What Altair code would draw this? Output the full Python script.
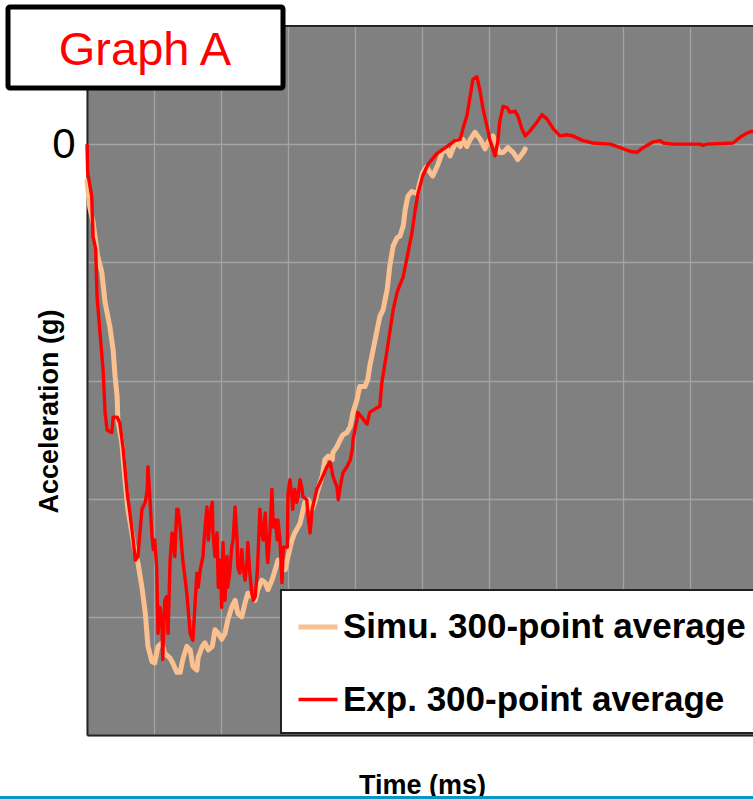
import altair as alt
import pandas as pd

# ---- data (time in ms, acceleration in g; one grid step = 10 ms / 10 g) ----
exp_t = [0, 0.1, 0.7, 0.9, 1.3, 1.5, 1.9, 2.4, 2.7, 3.0, 3.7, 3.9, 4.5, 4.9, 5.4, 6.0, 6.4, 6.9, 7.2, 7.6,
         8.2, 8.7, 9.0, 9.1, 9.4, 9.7, 9.9, 10.1, 10.4, 10.6, 10.9, 11.2, 11.3, 11.6, 11.9, 12.1, 12.4, 12.7, 13.1, 13.4,
         13.6, 13.9, 14.3, 14.9, 15.4, 15.8, 16.1, 16.4, 16.6, 16.9, 17.3, 17.6, 17.9, 18.1, 18.4, 18.7, 18.8, 19.1, 19.4, 19.6,
         19.9, 20.1, 20.3, 20.6, 20.9, 21.0, 21.3, 21.6, 21.8, 22.1, 22.4, 22.5, 22.8, 23.1, 23.3, 23.6, 23.9, 24.0, 24.3, 24.6,
         24.8, 25.1, 25.4, 25.5, 25.8, 26.1, 26.3, 26.6, 26.9, 27.0, 27.3, 27.6, 27.8, 28.1, 28.4, 28.5, 28.8, 29.1, 29.3, 29.9,
         30.0, 30.3, 30.6, 30.7, 31.0, 31.3, 31.5, 31.8, 32.1, 32.2, 32.8, 33.0, 33.3, 33.6, 34.3, 34.8, 35.2, 35.8, 36.3, 36.7,
         37.3, 37.5, 37.8, 38.2, 38.8, 39.3, 39.6, 39.7, 40.3, 40.4, 41.0, 41.8, 42.2, 43.3, 43.7, 44.0, 44.8, 45.7, 46.3, 47.2,
         47.8, 48.5, 49.0, 49.4, 50.1, 50.9, 52.2, 53.7, 54.9, 55.7, 56.1, 56.7, 57.2, 57.6, 58.2, 58.7, 59.1, 59.7, 60.1, 60.9,
         61.3, 61.6, 62.1, 62.7, 63.1, 63.9, 64.3, 64.9, 65.4, 66.1, 67.2, 67.9, 68.7, 69.6, 70.6, 71.6, 72.5, 74.0, 75.5, 78.1,
         79.6, 81.0, 82.1, 83.0, 84.5, 85.5, 86.0, 87.5, 91.5, 91.9, 92.5, 96.4, 97.5, 98.7, 99.4]
exp_g = [0, -2.4, -4.4, -7.8, -8.9, -12.9, -15.7, -19.1, -22.7, -24.2, -24.4, -23.1, -23.1, -23.6, -25.8, -29.5, -31.2, -33.5, -35.2, -34.9,
         -30.9, -30.3, -29.2, -27.3, -30.1, -33.2, -34.3, -33.5, -35.8, -41.4, -39.2, -40.8, -43.6, -38.6, -38.3, -41.4, -35.2, -32.9, -34.9, -30.9,
         -30.9, -32.4, -35.2, -38.0, -41.4, -42.0, -39.2, -36.3, -37.5, -36.0, -34.9, -32.6, -30.7, -33.5, -31.2, -30.3, -32.9, -34.9, -32.9, -37.5,
         -35.2, -39.2, -33.7, -38.6, -34.9, -37.5, -36.3, -34.1, -33.5, -30.7, -33.5, -35.8, -36.3, -34.3, -35.8, -36.9, -35.2, -33.7, -36.3, -38.0,
         -38.6, -38.3, -36.3, -35.2, -30.9, -32.9, -33.5, -31.2, -34.9, -35.4, -32.9, -29.2, -32.4, -31.8, -33.5, -31.8, -33.5, -37.1, -34.1, -34.1,
         -29.5, -28.4, -30.1, -30.9, -29.2, -30.3, -29.8, -28.4, -29.2, -29.8, -30.1, -31.5, -32.9, -30.9, -29.2, -28.6, -28.1, -27.3, -26.9, -28.1,
         -29.0, -30.1, -29.0, -27.8, -27.3, -26.7, -25.8, -25.0, -23.3, -22.7, -23.1, -23.7, -22.7, -22.3, -22.2, -20.2, -17.4, -14.0, -12.5, -11.2,
         -9.5, -7.5, -5.5, -4.2, -2.7, -1.7, -0.8, -0.2, 0.3, 0.4, 1.3, 2.4, 4.1, 5.5, 5.7, 4.4, 3.0, 1.5, 0.4, -1.0,
         0.2, 1.9, 3.2, 3.1, 2.7, 2.8, 2.4, 1.3, 0.7, 1.1, 1.9, 2.5, 2.1, 1.3, 0.7, 0.8, 0.7, 0.3, 0.1, 0.0,
         -0.3, -0.6, -0.7, -0.3, 0.2, 0.3, 0.1, 0.0, 0.0, -0.1, 0.0, 0.1, 0.6, 1.0, 1.1]

simu_t = [0, 0.4, 0.9, 1.6, 2.2, 2.7, 3.4, 3.9, 4.2, 4.5, 4.6, 5.2, 5.7, 6.1, 6.7, 7.2, 7.6, 8.2, 8.7, 9.1,
          9.7, 10.1, 10.6, 11.2, 11.6, 12.4, 12.8, 13.4, 13.9, 14.3, 14.9, 15.4, 15.8, 16.4, 16.6, 17.2, 17.6, 18.1, 18.7, 19.1,
          19.6, 20.1, 20.6, 21.0, 21.6, 22.1, 22.5, 23.1, 23.6, 24.0, 24.6, 25.1, 25.5, 26.1, 26.6, 27.0, 27.6, 28.1, 28.5, 29.1,
          29.6, 30.0, 30.6, 31.0, 31.8, 32.5, 33.0, 33.6, 34.0, 34.5, 35.1, 35.5, 36.0, 36.6, 36.7, 37.3, 37.8, 38.2, 38.8, 39.3,
          39.7, 40.3, 40.7, 41.5, 41.9, 42.2, 42.7, 43.3, 43.7, 44.2, 44.8, 45.2, 45.7, 46.3, 46.7, 47.2, 47.5, 47.9, 48.5, 49.3,
          49.7, 50.1, 50.7, 51.2, 51.6, 52.4, 53.0, 53.7, 54.2, 54.6, 55.2, 55.7, 56.1, 56.7, 57.2, 57.9, 58.7, 59.4, 59.9, 60.6,
          61.2, 61.6, 62.1, 62.8, 63.6, 64.3, 65.1, 65.4]
simu_g = [-3.1, -5.3, -6.6, -9.5, -10.8, -13.4, -15.4, -17.4, -19.7, -21.4, -23.3, -25.3, -28.6, -30.9, -32.9, -34.6, -35.4, -37.5, -39.7, -42.5,
          -43.8, -43.9, -42.5, -42.2, -43.1, -43.5, -43.9, -44.7, -44.7, -43.6, -42.5, -42.8, -44.2, -44.5, -43.4, -42.5, -42.2, -42.8, -42.5, -41.1,
          -41.4, -41.9, -41.4, -40.3, -39.2, -38.6, -39.7, -40.0, -38.8, -38.0, -38.3, -38.6, -37.7, -36.9, -37.1, -37.7, -36.9, -36.0, -35.2, -35.2,
          -36.0, -34.9, -33.5, -32.9, -32.1, -30.3, -30.1, -30.9, -30.3, -29.2, -28.1, -26.7, -26.4, -26.7, -26.1, -25.6, -25.0, -24.6, -24.4, -23.9,
          -22.7, -21.6, -20.5, -20.5, -19.9, -18.8, -17.4, -15.7, -14.6, -14.0, -12.3, -10.3, -8.6, -7.9, -7.8, -6.9, -5.5, -4.4, -4.0, -4.2,
          -3.2, -2.4, -1.9, -2.4, -2.7, -1.7, -0.7, -0.4, -1.0, -0.4, 0.3, -0.2, 0.4, -0.2, 0.4, 1.0, 0.4, -0.4, 0.2, 0.7,
          -0.2, -0.7, -0.7, -0.3, -0.7, -1.3, -0.7, -0.4]

SIMU = "Simu. 300-point average"
EXP = "Exp. 300-point average"
series_names = [SIMU, EXP]
series_colors = ["#FAC090", "#FF0000"]
series_widths = [5, 3.4]

x_grid = [0, 10, 20, 30, 40, 50, 60, 70, 80, 90]
y_grid = [-50, -40, -30, -20, -10, 0, 10]

simu_df = pd.DataFrame({"t": simu_t, "g": simu_g, "series": SIMU, "k": range(len(simu_t))})
exp_df = pd.DataFrame({"t": exp_t, "g": exp_g, "series": EXP, "k": range(len(exp_t))})

W, H = 666, 709
FONT = "Liberation Sans"

legend = alt.Legend(
    title=None, orient="none", legendX=194, legendY=564,
    symbolType="stroke", symbolSize=1521, labelFontSize=35, labelFontWeight="bold",
    labelColor="black", labelFont=FONT, fillColor="white", strokeColor="#222222",
    padding=15, rowPadding=33, labelOffset=3, labelLimit=0,
)

x_enc = alt.X(
    "t:Q", scale=alt.Scale(domain=[0, 99.4], nice=False, zero=False),
    axis=alt.Axis(values=x_grid, labels=False, ticks=False, grid=True,
                  title="Time (ms)", titleFontSize=27, titleFontWeight="bold", titleFont=FONT,
                  titleColor="black", titleX=335, titleY=58, titleAlign="center", titleBaseline="alphabetic",
                  domainColor="#222222", domainWidth=2, gridColor="#a3a3a3", gridWidth=1.3),
)
y_enc = alt.Y(
    "g:Q", scale=alt.Scale(domain=[-50, 10], nice=False),
    axis=alt.Axis(values=y_grid, labelExpr="datum.value == 0 ? '0' : ''", labelFontSize=42,
                  labelFont=FONT, labelColor="black", labelPadding=12, ticks=False, tickSize=0,
                  title="Acceleration (g)", titleFontSize=27, titleFontWeight="bold", titleFont=FONT,
                  titleColor="black", titleAngle=270, titleX=-30, titleY=385, titleAlign="center",
                  titleBaseline="alphabetic",
                  domainColor="#222222", domainWidth=2, gridColor="#a3a3a3", gridWidth=1.3),
)
color_enc = alt.Color("series:N", scale=alt.Scale(domain=series_names, range=series_colors), legend=legend)
width_enc = alt.StrokeWidth("series:N", scale=alt.Scale(domain=series_names, range=series_widths), legend=legend)

simu_line = alt.Chart(simu_df).mark_line(strokeJoin="round", strokeCap="round").encode(
    x=x_enc, y=y_enc, color=color_enc, strokeWidth=width_enc, order="k:Q")
exp_line = alt.Chart(exp_df).mark_line(strokeJoin="round").encode(
    x=x_enc, y=y_enc, color=color_enc, strokeWidth=width_enc, order="k:Q")

one = pd.DataFrame({"a": [0]})
top_border = alt.Chart(one).mark_rule(color="#222222", strokeWidth=2).encode(
    x=alt.value(0), x2=alt.value(W), y=alt.value(0))
box = alt.Chart(one).mark_rect(fill="white", stroke="black", strokeWidth=5, cornerRadius=2).encode(
    x=alt.value(-79), x2=alt.value(196), y=alt.value(-19), y2=alt.value(62))
box_text = alt.Chart(one).mark_text(text="Graph A", color="#FF0000", fontSize=47, font=FONT,
                                    align="center", baseline="alphabetic").encode(
    x=alt.value(58), y=alt.value(39))
blue_rule = alt.Chart(one).mark_rule(color="#0a95c9", strokeWidth=3).encode(
    x=alt.value(-87), x2=alt.value(W), y=alt.value(771.5))

chart = alt.layer(simu_line, exp_line, top_border, box, box_text, blue_rule).properties(
    width=W, height=H,
    autosize=alt.AutoSizeParams(type="none"),
    padding={"left": 87, "top": 26, "right": 0, "bottom": 64},
    background="white",
).configure_view(stroke=None, fill="#808080").configure_legend(strokeWidth=2)

chart.save("out.html", embed_options={"renderer": "svg", "actions": False})
